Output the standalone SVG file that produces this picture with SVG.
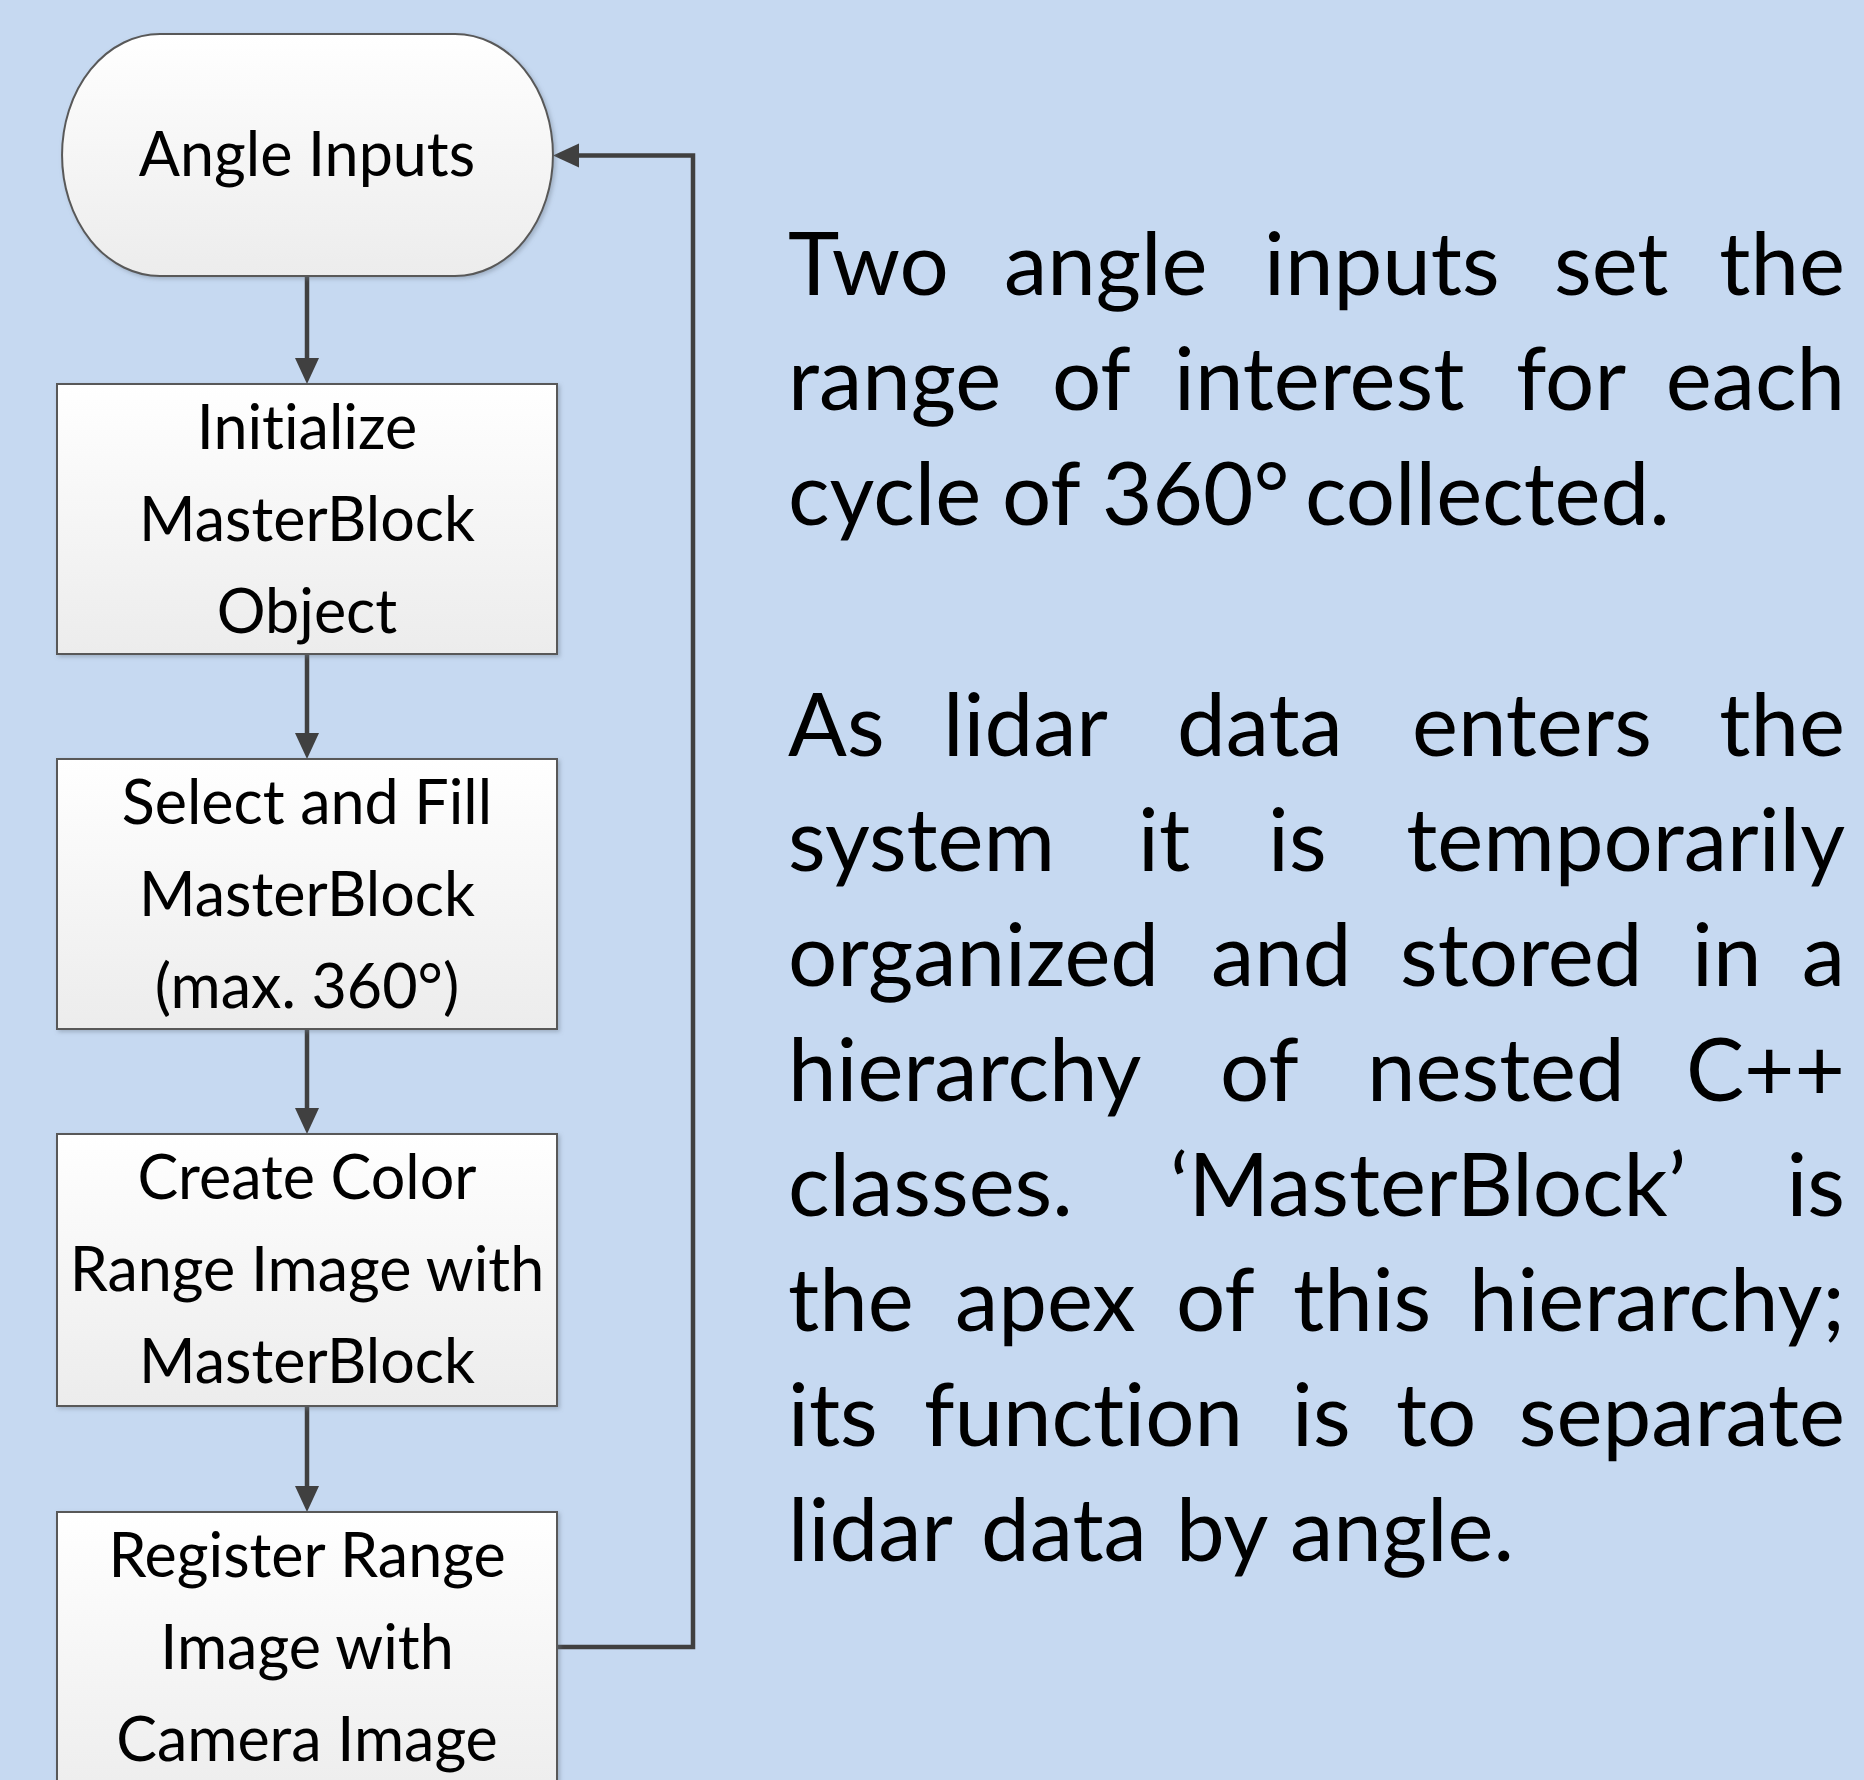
<svg xmlns="http://www.w3.org/2000/svg" width="1864" height="1780" viewBox="0 0 1864 1780">
<style>
.bg{fill:#c6d9f1}
.node{fill:url(#g);stroke:#595959;stroke-width:2;filter:url(#sh)}
.lbl{font-family:Lato,"Open Sans","Liberation Sans",sans-serif;font-size:61px;fill:#000;text-anchor:middle;font-variant-ligatures:none}
.para{font-family:Lato,"Open Sans","Liberation Sans",sans-serif;font-size:87px;fill:#000;font-variant-ligatures:none}
.end{text-anchor:end}
.conn{fill:none;stroke:#404040;stroke-width:4.5}
</style>
<defs>
<linearGradient id="g" x1="0" y1="0" x2="0" y2="1">
<stop offset="0" stop-color="#ffffff"/>
<stop offset="1" stop-color="#ececec"/>
</linearGradient>
<filter id="sh" x="-10%" y="-10%" width="120%" height="120%">
<feDropShadow dx="2" dy="2" stdDeviation="2" flood-color="#6f7c8c" flood-opacity="0.45"/>
</filter>
<marker id="ah" markerUnits="userSpaceOnUse" markerWidth="28" markerHeight="26" refX="6" refY="12" orient="auto">
<path d="M0,0 L26,12 L0,24 Z" fill="#404040"/>
</marker>
</defs>
<rect class="bg" x="0" y="0" width="1864" height="1780"/>

<g id="connectors">
<path class="conn" d="M307,276 V364" marker-end="url(#ah)"/>
<path class="conn" d="M307,655 V739" marker-end="url(#ah)"/>
<path class="conn" d="M307,1030 V1114" marker-end="url(#ah)"/>
<path class="conn" d="M307,1407 V1492" marker-end="url(#ah)"/>
<path class="conn" d="M557,1647 H693 V155.5 H573" marker-end="url(#ah)"/>
</g>

<g id="n-angle">
<path class="node" d="M160,34 H455 A98,121 0 0 1 455,276 H160 A98,121 0 0 1 160,34 Z"/>
<text class="lbl" x="307" y="176">Angle Inputs</text>
</g>
<g id="n-init">
<rect class="node" x="57" y="384" width="500" height="270"/>
<text class="lbl" x="307" y="449">Initialize</text>
<text class="lbl" x="307" y="541">MasterBlock</text>
<text class="lbl" x="307" y="633">Object</text>
</g>
<g id="n-select">
<rect class="node" x="57" y="759" width="500" height="270"/>
<text class="lbl" x="307" y="824">Select and Fill</text>
<text class="lbl" x="307" y="916">MasterBlock</text>
<text class="lbl" x="307" y="1008">(max. 360°)</text>
</g>
<g id="n-create">
<rect class="node" x="57" y="1134" width="500" height="272"/>
<text class="lbl" x="307" y="1199">Create Color</text>
<text class="lbl" x="307" y="1291">Range Image with</text>
<text class="lbl" x="307" y="1383">MasterBlock</text>
</g>
<g id="n-register">
<rect class="node" x="57" y="1512" width="500" height="300"/>
<text class="lbl" x="307" y="1577">Register Range</text>
<text class="lbl" x="307" y="1669">Image with</text>
<text class="lbl" x="307" y="1761">Camera Image</text>
</g>

<g id="description">
<text class="para" y="295"><tspan x="788">Two</tspan><tspan x="1004">angle</tspan><tspan x="1264">inputs</tspan><tspan x="1554">set</tspan></text>
<text class="para end" x="1845" y="295">the</text>
<text class="para" y="410"><tspan x="788">range</tspan><tspan x="1052">of</tspan><tspan x="1174">interest</tspan><tspan x="1516">for</tspan></text>
<text class="para end" x="1845" y="410">each</text>
<text class="para" y="525"><tspan x="788">cycle</tspan><tspan x="1002">of</tspan><tspan x="1102">360°</tspan><tspan x="1305">collected.</tspan></text>
<text class="para" y="756"><tspan x="788">As</tspan><tspan x="943">lidar</tspan><tspan x="1177">data</tspan><tspan x="1412">enters</tspan></text>
<text class="para end" x="1845" y="756">the</text>
<text class="para" y="871"><tspan x="788">system</tspan><tspan x="1138">it</tspan><tspan x="1268">is</tspan></text>
<text class="para end" x="1845" y="871">temporarily</text>
<text class="para" y="986"><tspan x="788">organized</tspan><tspan x="1211">and</tspan><tspan x="1400">stored</tspan><tspan x="1692">in</tspan></text>
<text class="para end" x="1845" y="986">a</text>
<text class="para" y="1101"><tspan x="788">hierarchy</tspan><tspan x="1220">of</tspan><tspan x="1367">nested</tspan></text>
<text class="para end" x="1845" y="1101">C++</text>
<text class="para" y="1216"><tspan x="788">classes.</tspan><tspan x="1170">‘MasterBlock’</tspan></text>
<text class="para end" x="1845" y="1216">is</text>
<text class="para" y="1331"><tspan x="788">the</tspan><tspan x="955">apex</tspan><tspan x="1176">of</tspan><tspan x="1293">this</tspan></text>
<text class="para end" x="1845" y="1331">hierarchy;</text>
<text class="para" y="1446"><tspan x="788">its</tspan><tspan x="924">function</tspan><tspan x="1292">is</tspan><tspan x="1396">to</tspan></text>
<text class="para end" x="1845" y="1446">separate</text>
<text class="para" y="1561"><tspan x="788">lidar</tspan><tspan x="981">data</tspan><tspan x="1176">by</tspan><tspan x="1290">angle.</tspan></text>
</g>
</svg>
